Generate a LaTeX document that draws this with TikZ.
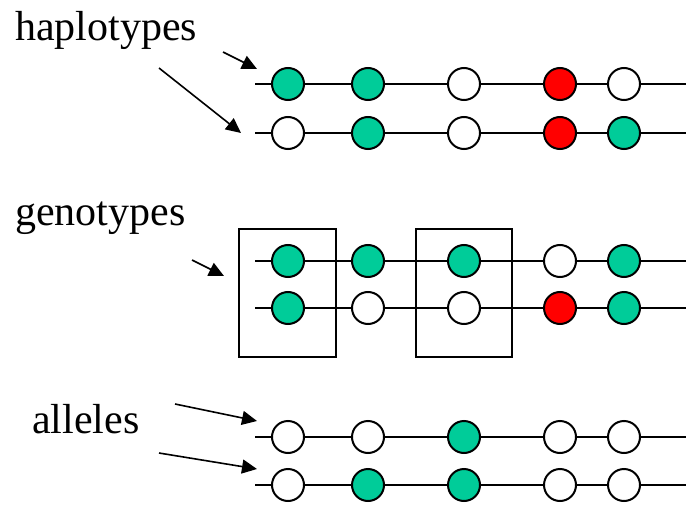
\documentclass[tikz,border=0pt]{standalone}
\usepackage{fontspec}
\setmainfont{Liberation Serif}
\usetikzlibrary{arrows.meta}
\definecolor{allelegreen}{RGB}{0,204,153}
\definecolor{allelered}{RGB}{255,0,0}
\begin{document}
\begin{tikzpicture}[x=1pt,y=-1pt,
  site/.style={circle,draw=black,line width=2pt,minimum size=32pt,inner sep=0pt},
  G/.style={site,fill=allelegreen},
  R/.style={site,fill=allelered},
  W/.style={site,fill=white},
  strand/.style={line width=2pt},
  pointer/.style={line width=1.6pt,-{Triangle[length=15pt,width=14pt]}},
  label/.style={font=\fontsize{42}{48}\selectfont,anchor=base west,inner sep=0pt},
  genobox/.style={draw=black,line width=2pt}]
\useasboundingbox (0,0) rectangle (686,506);

% one strand: row name, y position, five allele styles
\newcommand{\strandrow}[7]{%
  \coordinate (#1s) at (255,#2);
  \coordinate (#1e) at (686,#2);
  \node[#3] (#11) at (288,#2) {};
  \node[#4] (#12) at (368,#2) {};
  \node[#5] (#13) at (464,#2) {};
  \node[#6] (#14) at (560,#2) {};
  \node[#7] (#15) at (624,#2) {};
  \draw[strand] (#1s) -- (#11) -- (#12) -- (#13) -- (#14) -- (#15) -- (#1e);
}

% haplotypes
\node[label] (hap) at (15,40) {haplotypes};
\strandrow{ha}{84}{G}{G}{W}{R}{W}
\strandrow{hb}{133}{W}{G}{W}{R}{G}
\coordinate (hp1) at (223,52);
\coordinate (ht1) at (257,69);
\coordinate (hp2) at (159,68);
\coordinate (ht2) at (241,133);
\draw[pointer] (hp1) -- (ht1);
\draw[pointer] (hp2) -- (ht2);

% genotypes
\node[label] (gen) at (15,225) {genotypes};
\draw[genobox] (239,229) rectangle (336,357);
\draw[genobox] (416,229) rectangle (512,357);
\strandrow{ga}{261}{G}{G}{G}{W}{G}
\strandrow{gb}{308}{G}{W}{W}{R}{G}
\coordinate (gp) at (192,260);
\coordinate (gt) at (224,276);
\draw[pointer] (gp) -- (gt);

% alleles
\node[label] (all) at (32,433) {alleles};
\strandrow{aa}{437}{W}{W}{G}{W}{W}
\strandrow{ab}{485}{W}{G}{G}{W}{W}
\coordinate (ap1) at (175,404);
\coordinate (at1) at (257,421);
\coordinate (ap2) at (159,453);
\coordinate (at2) at (257,469);
\draw[pointer] (ap1) -- (at1);
\draw[pointer] (ap2) -- (at2);
\end{tikzpicture}
\end{document}
